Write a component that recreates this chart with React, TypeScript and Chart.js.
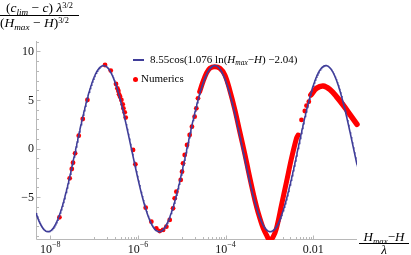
import React, { useEffect, useRef } from 'react';
import { Chart, registerables } from 'chart.js';

Chart.register(...registerables);

// ---- Axis ranges ----
const xMin = 4.7e-9;
const xMax = 0.1;
const yMin = -9.31;
const yMax = 11.08;

// ---- Fit curve parameters (from legend) ----
const fitAmplitude = 8.55;
const fitFrequency = 1.076;
const fitPhase = -2.04;
const fitSampleCount = 600;

// ---- Numerics: sparse points ----
const numericsSparseX = [
  1.61e-8, 2.76e-8, 3.08e-8, 3.29e-8, 3.67e-8, 4.44e-8, 5.49e-8, 7.01e-8,
  1.77e-7, 2.39e-7, 3.15e-7, 3.39e-7, 3.57e-7, 3.7e-7, 3.9e-7, 4.18e-7,
  4.48e-7, 4.65e-7, 4.98e-7, 5.25e-7, 7.72e-7, 8.72e-7,
  1.5e-6, 2.02e-6, 2.62e-6, 3.13e-6, 3.74e-6, 4.45e-6, 5.3e-6, 6.32e-6,
  6.89e-6, 7.53e-6, 9.45e-6, 1.013e-5, 1.068e-5, 1.166e-5, 1.318e-5, 1.512e-5,
  1.706e-5, 1.966e-5, 2.149e-5, 2.344e-5,
  5.41e-3, 6.44e-3, 7.03e-3, 7.94e-3,
];
const numericsSparseY = [
  -7.08, -3.06, -2.1, -1.45, -0.49, 1.33, 3.05, 5.01,
  8.61, 8.03, 6.65, 6.21, 5.93, 5.59, 5.35, 5.01,
  4.56, 4.15, 3.74, 3.19, -0.14, -1.62,
  -6.08, -7.53, -8.21, -8.49, -8.38, -8.04, -7.35, -6.15,
  -5.12, -4.44, -3.23, -2.38, -1.52, -0.66, 0.37, 1.4,
  2.26, 3.29, 4.15, 5.18,
  2.95, 3.87, 4.42, 4.83,
];

// ---- Numerics: dense bands (points so close they merge) ----
const numericsBand1X = [
  2.56e-5, 3.05e-5, 3.64e-5, 4.38e-5, 5.69e-5, 7.41e-5, 9.64e-5, 1.25e-4,
  1.63e-4, 2.12e-4, 2.75e-4, 3.28e-4, 3.91e-4, 4.66e-4, 5.55e-4, 7.21e-4,
  8.59e-4, 1.02e-3, 1.22e-3, 1.45e-3, 1.89e-3, 2.46e-3, 3.2e-3, 4.16e-3, 4.54e-3,
];
const numericsBand1Y = [
  5.86, 6.89, 7.75, 8.27, 8.44, 8.27, 7.58, 6.0,
  4.0, 1.7, -0.55, -2.2, -3.8, -5.3, -6.6, -8.2,
  -8.9, -9.45, -9.07, -8.21, -5.81, -3.41, -1.0, 1.06, 1.4,
];
const numericsBand2X = [8.83e-3, 1.19e-2, 1.69e-2, 2.39e-2, 3.4e-2, 4.82e-2, 6.86e-2, 0.1];
const numericsBand2Y = [5.52, 6.21, 6.45, 6.1, 5.35, 4.49, 3.53, 2.5];

// ---- Ticks ----
const yMajorTicks = [-5, 0, 5, 10];
const yMajorLabels = ['\u22125', '0', '5', '10'];
const yMinorTicks = [-9, -8, -7, -6, -4, -3, -2, -1, 1, 2, 3, 4, 6, 7, 8, 9, 11];
const xMajorTicks = [1e-8, 1e-6, 1e-4, 1e-2];
const xMajorBase = ['10', '10', '10', '0.01'];
const xMajorExp = ['\u22128', '\u22126', '\u22124', ''];
const xMinorTicks = [
  1e-7, 2e-7, 3e-7, 4e-7, 5e-7, 6e-7, 7e-7, 8e-7, 9e-7,
  1e-5, 2e-5, 3e-5, 4e-5, 5e-5, 6e-5, 7e-5, 8e-5, 9e-5,
  1e-3, 2e-3, 3e-3, 4e-3, 5e-3, 6e-3, 7e-3, 8e-3, 9e-3,
];

const BLUE = '#3f3d99';
const RED = '#ff0000';
const AXIS = '#b8b8b8';
const SERIF = '"Liberation Serif", "Times New Roman", serif';

function zip(xs: number[], ys: number[]) {
  return xs.map((x, i) => ({ x, y: ys[i] }));
}

function fitCurve() {
  const pts: { x: number; y: number }[] = [];
  const lMin = Math.log(xMin);
  const lMax = Math.log(xMax);
  for (let i = 0; i < fitSampleCount; i++) {
    const l = lMin + ((lMax - lMin) * i) / (fitSampleCount - 1);
    pts.push({ x: Math.exp(l), y: fitAmplitude * Math.cos(fitFrequency * l + fitPhase) });
  }
  return pts;
}

const axesPlugin = {
  id: 'mmaAxes',
  beforeDatasetsDraw(chart: any) {
    const { ctx, chartArea } = chart;
    const xs = chart.scales.x;
    const ys = chart.scales.y;
    const left = Math.round(chartArea.left) + 0.5;
    const bottom = Math.round(chartArea.bottom) + 0.5;
    ctx.save();
    ctx.strokeStyle = AXIS;
    ctx.lineWidth = 1;
    ctx.beginPath();
    ctx.moveTo(left, Math.round(chartArea.top));
    ctx.lineTo(left, bottom);
    ctx.moveTo(left, bottom);
    ctx.lineTo(Math.round(chartArea.right), bottom);
    yMajorTicks.forEach((v) => {
      const p = Math.round(ys.getPixelForValue(v)) + 0.5;
      ctx.moveTo(left, p);
      ctx.lineTo(left + 4, p);
    });
    yMinorTicks.forEach((v) => {
      const p = Math.round(ys.getPixelForValue(v)) + 0.5;
      ctx.moveTo(left, p);
      ctx.lineTo(left + 2.5, p);
    });
    xMajorTicks.forEach((v) => {
      const p = Math.round(xs.getPixelForValue(v)) + 0.5;
      ctx.moveTo(p, bottom);
      ctx.lineTo(p, bottom - 4);
    });
    xMinorTicks.forEach((v) => {
      const p = Math.round(xs.getPixelForValue(v)) + 0.5;
      ctx.moveTo(p, bottom);
      ctx.lineTo(p, bottom - 2.5);
    });
    ctx.stroke();
    ctx.restore();
  },
  afterDraw(chart: any) {
    const { ctx, chartArea } = chart;
    const xs = chart.scales.x;
    const ys = chart.scales.y;
    ctx.save();
    ctx.fillStyle = '#111';
    ctx.font = `12px ${SERIF}`;
    ctx.textAlign = 'right';
    ctx.textBaseline = 'middle';
    yMajorTicks.forEach((v, i) => {
      ctx.fillText(yMajorLabels[i], chartArea.left - 2, ys.getPixelForValue(v) + 0.5);
    });
    ctx.textAlign = 'left';
    ctx.textBaseline = 'alphabetic';
    xMajorTicks.forEach((v, i) => {
      const p = xs.getPixelForValue(v);
      ctx.font = `12px ${SERIF}`;
      const wb = ctx.measureText(xMajorBase[i]).width;
      ctx.font = `8px ${SERIF}`;
      const we = xMajorExp[i] ? ctx.measureText(xMajorExp[i]).width : 0;
      const start = p - (wb + we) / 2;
      ctx.font = `12px ${SERIF}`;
      ctx.fillText(xMajorBase[i], start, 253);
      if (xMajorExp[i]) {
        ctx.font = `8px ${SERIF}`;
        ctx.fillText(xMajorExp[i], start + wb, 247);
      }
    });
    ctx.restore();
  },
};

const sub = (t: string) => (
  <span style={{ fontSize: '0.68em', fontStyle: 'italic', position: 'relative', top: '0.3em', lineHeight: 0 }}>{t}</span>
);
const sup = (t: string) => (
  <span style={{ fontSize: '0.62em', position: 'relative', top: '-0.5em', lineHeight: 0 }}>{t}</span>
);
const it = (t: string) => <span style={{ fontStyle: 'italic' }}>{t}</span>;

export default function App() {
  const canvasRef = useRef<HTMLCanvasElement | null>(null);

  useEffect(() => {
    const canvas = canvasRef.current;
    if (!canvas) return;
    const chart = new Chart(canvas, {
      type: 'scatter',
      data: {
        datasets: [
          {
            label: 'fit',
            data: fitCurve(),
            showLine: true,
            borderColor: BLUE,
            borderWidth: 1.6,
            pointRadius: 0,
            tension: 0,
            order: 0,
          },
          {
            label: 'Numerics band 1',
            data: zip(numericsBand1X, numericsBand1Y),
            showLine: true,
            borderColor: RED,
            borderWidth: 5,
            borderCapStyle: 'round',
            borderJoinStyle: 'round',
            pointRadius: 0,
            tension: 0.35,
            clip: { left: 3, right: 3, top: 3, bottom: 1 },
            order: 1,
          },
          {
            label: 'Numerics band 2',
            data: zip(numericsBand2X, numericsBand2Y),
            showLine: true,
            borderColor: RED,
            borderWidth: 5.5,
            borderCapStyle: 'round',
            borderJoinStyle: 'round',
            pointRadius: 0,
            tension: 0.35,
            clip: { left: 3, right: 3, top: 3, bottom: 1 },
            order: 1,
          },
          {
            label: 'Numerics',
            data: zip(numericsSparseX, numericsSparseY),
            showLine: false,
            backgroundColor: RED,
            borderWidth: 0,
            pointRadius: 2.4,
            clip: { left: 3, right: 3, top: 3, bottom: 1 },
            order: 1,
          },
        ],
      },
      options: {
        animation: false,
        responsive: false,
        events: [],
        layout: { padding: { left: 36, top: 41, right: 54, bottom: 16 } },
        plugins: { legend: { display: false }, tooltip: { enabled: false } },
        scales: {
          x: { type: 'logarithmic', min: xMin, max: xMax, display: false },
          y: { type: 'linear', min: yMin, max: yMax, display: false },
        },
      },
      plugins: [axesPlugin],
    } as any);
    return () => chart.destroy();
  }, []);

  return (
    <div style={{ position: 'fixed', left: 0, top: 0, width: 411, height: 255, background: '#fff', fontFamily: SERIF, color: '#000', overflow: 'hidden' }}>
      <canvas ref={canvasRef} width={411} height={255} style={{ position: 'absolute', left: 0, top: 0, width: 411, height: 255 }} />
      {/* y-axis title */}
      <div style={{ position: 'absolute', left: 0, top: 1, width: 79, fontSize: 13.5, textAlign: 'center', whiteSpace: 'nowrap' }}>
        <div style={{ height: 14, lineHeight: '14px' }}>
          ({it('c')}{sub('lim')} − {it('c')}) {it('λ')}{sup('3/2')}
        </div>
        <div style={{ borderTop: '1px solid #000', height: 13, lineHeight: '13px', textAlign: 'left' }}>
          ({it('H')}{sub('max')} − {it('H')}){sup('3/2')}
        </div>
      </div>
      {/* x-axis title */}
      <div style={{ position: 'absolute', left: 359, top: 230, width: 50, fontSize: 13, textAlign: 'center', whiteSpace: 'nowrap' }}>
        <div style={{ height: 13, lineHeight: '13px' }}>
          {it('H')}{sub('max')}−{it('H')}
        </div>
        <div style={{ borderTop: '1px solid #000', height: 11, lineHeight: '11px' }}>{it('λ')}</div>
      </div>
      {/* legend */}
      <div style={{ position: 'absolute', left: 133, top: 59, width: 11, height: 2, background: BLUE }} />
      <div style={{ position: 'absolute', left: 150, top: 53, fontSize: 11, lineHeight: '13px', whiteSpace: 'nowrap' }}>
        8.55cos(1.076 ln({it('H')}{sub('max')}−{it('H')}) −2.04)
      </div>
      <div style={{ position: 'absolute', left: 133, top: 77, width: 5, height: 5, borderRadius: '50%', background: RED }} />
      <div style={{ position: 'absolute', left: 141, top: 72, fontSize: 11, lineHeight: '13px', whiteSpace: 'nowrap' }}>Numerics</div>
    </div>
  );
}
